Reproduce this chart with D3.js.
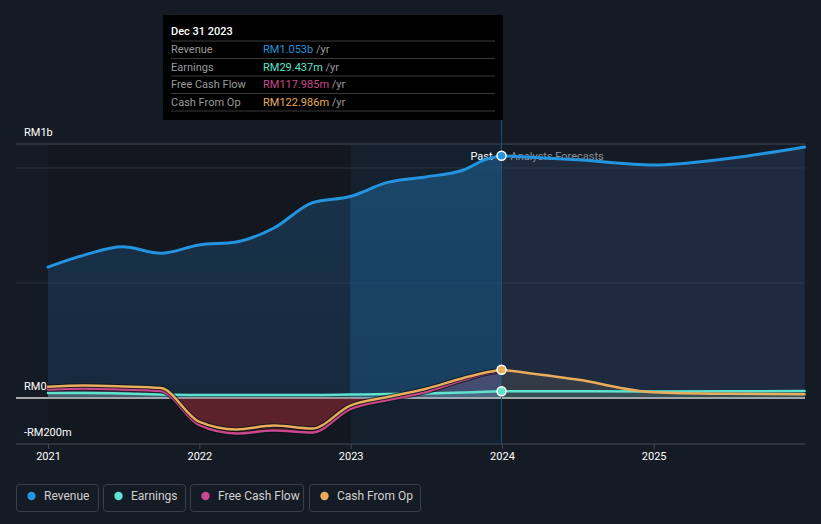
<!DOCTYPE html>
<html><head><meta charset="utf-8">
<script src="https://cdn.jsdelivr.net/npm/d3@7"></script>
<style>
html,body{margin:0;padding:0;background:#151b25;}
svg{display:block;font-family:Roboto, "Open Sans", sans-serif;}
</style></head>
<body><svg id="c" width="821" height="524"></svg>
<script>
// ---- data (RM millions) ----
const pastDates = ["2021-01-01","2021-03-31","2021-06-30","2021-09-30","2021-12-31","2022-03-31","2022-06-30","2022-09-30","2022-12-31","2023-03-31","2023-06-30","2023-09-30","2023-11-20","2023-12-31"];
const revenuePast  = [569, 622, 657, 629, 665, 678, 739, 848, 876, 937, 961, 991, 1035, 1053];
const earningsPast = [22, 22, 20, 15, 13, 13, 13, 13, 15, 17, 20, 24, 27, 29.4];
const fcfPast      = [37, 41, 37, 30, -117, -154, -141, -150, -48, -9, 26, 78, 104, 118];
const cfoPast      = [49, 54, 50, 43, -103, -137, -120, -133, -33, 4, 39, 87, 110, 123];

const forecastDates    = ["2023-12-31","2024-06-30","2024-12-31","2025-06-30","2025-12-31"];
const revenueForecast  = [1053, 1036, 1013, 1041, 1091];
const earningsForecast = [29.4, 29, 28, 29, 30];
const cfoForecast      = [123, 80, 25, 18, 16];

const xTickLabels = ["2021","2022","2023","2024","2025"];
const yTickValues = [1000, 500, 0, -200];
const yLabels = [{v:1104, t:"RM1b"}, {v:0, t:"RM0"}, {v:-200, t:"-RM200m"}];

const seriesNames  = ["Revenue","Earnings","Free Cash Flow","Cash From Op"];
const seriesColors = ["#2394df","#5fe3cf","#c9478c","#e8ae5c"];
const tooltipValues = ["RM1.053b","RM29.437m","RM117.985m","RM122.986m"];

// ---- setup ----
const svg = d3.select("#c");
const parse = d3.timeParse("%Y-%m-%d");
const x = d3.scaleTime().domain([parse("2021-01-01"), parse("2026-01-01")]).range([48, 805]);
const y = d3.scaleLinear().domain([-200, 1104]).range([444, 144]);

const past = pastDates.map((d,i)=>({d:parse(d), rev:revenuePast[i], earn:earningsPast[i], fcf:fcfPast[i], cfo:cfoPast[i]}));
const fc = forecastDates.map((d,i)=>({d:parse(d), rev:revenueForecast[i], earn:earningsForecast[i], cfo:cfoForecast[i]}));
const xNow = x(parse("2023-12-31"));
const x0 = x.range()[0], x1 = x.range()[1];
const yTop = y(1104), yBot = y(-200), yZero = y(0);

const defs = svg.append("defs");
const g1 = defs.append("linearGradient").attr("id","revPast").attr("x1",0).attr("x2",0).attr("y1",0).attr("y2",1);
g1.append("stop").attr("offset","0%").attr("stop-color","#1d4a70").attr("stop-opacity",0.55);
g1.append("stop").attr("offset","100%").attr("stop-color","#1a3550").attr("stop-opacity",0.6);
defs.append("clipPath").attr("id","above").append("rect").attr("x",0).attr("y",0).attr("width",821).attr("height",yZero);
defs.append("clipPath").attr("id","below").append("rect").attr("x",0).attr("y",yZero).attr("width",821).attr("height",524-yZero);

// past darker region
svg.append("rect").attr("x",x0).attr("y",yTop).attr("width",xNow-x0).attr("height",yBot-yTop).attr("fill","#000").attr("opacity",0.13);
// highlight band last year
svg.append("rect").attr("x",x(parse("2023-01-01"))).attr("y",yTop).attr("width",xNow-x(parse("2023-01-01"))).attr("height",yBot-yTop).attr("fill","#1b5a8a").attr("opacity",0.14);

// gridlines
yTickValues.forEach(v=>{
  svg.append("line").attr("x1",16).attr("x2",x1).attr("y1",y(v)).attr("y2",y(v))
    .attr("stroke", v===0 ? "#d8d8d8" : (v===-200 ? "#454a53" : "#2b313b")).attr("stroke-width",1);
});
svg.append("line").attr("x1",16).attr("x2",x1).attr("y1",yTop).attr("y2",yTop).attr("stroke","#454a53");

const curve = d3.curveMonotoneX;
const area = key => d3.area().curve(curve).x(d=>x(d.d)).y0(yZero).y1(d=>y(d[key]));
const line = key => d3.line().curve(curve).x(d=>x(d.d)).y(d=>y(d[key]));

// revenue areas
svg.append("path").datum(past).attr("d",area("rev")).attr("fill","url(#revPast)");
svg.append("path").datum(fc).attr("d",area("rev")).attr("fill","#2a4060").attr("opacity",0.42);

// brighter highlight under revenue in last past year
svg.append("path").datum(past.filter(d=>d.d>=parse("2022-12-31"))).attr("d",area("rev")).attr("fill","#1f6aa0").attr("opacity",0.3);

// small-series areas
svg.append("path").datum(past).attr("d",area("cfo")).attr("fill","#c8c8c8").attr("opacity",0.12).attr("clip-path","url(#above)");
svg.append("path").datum(past).attr("d",area("fcf")).attr("fill","#c9478c").attr("opacity",0.14).attr("clip-path","url(#above)");
svg.append("path").datum(past).attr("d",area("earn")).attr("fill","#5fe3cf").attr("opacity",0.18);
svg.append("path").datum(past).attr("d",area("fcf")).attr("fill","#6e2630").attr("opacity",0.8).attr("clip-path","url(#below)");
svg.append("path").datum(fc).attr("d",area("cfo")).attr("fill","#5a5a5a").attr("opacity",0.35);
svg.append("path").datum(fc).attr("d",area("earn")).attr("fill","#5fe3cf").attr("opacity",0.12);

// zero line again on top of areas
svg.append("line").attr("x1",16).attr("x2",x1).attr("y1",yZero).attr("y2",yZero).attr("stroke","#d8d8d8");

// cursor line
svg.append("line").attr("x1",xNow).attr("x2",xNow).attr("y1",119).attr("y2",yBot).attr("stroke","#1f5274").attr("stroke-width",1);

// Past / forecast labels
svg.append("text").attr("x",xNow-9).attr("y",160).attr("text-anchor","end").attr("fill","#fff").attr("font-size",11).text("Past");
svg.append("text").attr("x",xNow+9).attr("y",160).attr("fill","#8a8f98").attr("font-size",11).text("Analysts Forecasts");

// lines
function drawLine(data,key,color,w,outline){
  if(outline) svg.append("path").datum(data).attr("d",line(key)).attr("fill","none").attr("stroke","#0c0f14").attr("stroke-opacity",0.7).attr("stroke-width",w+2);
  svg.append("path").datum(data).attr("d",line(key)).attr("fill","none").attr("stroke",color).attr("stroke-width",w).attr("stroke-linecap","round");
}
drawLine(past,"earn",seriesColors[1],2.5,false);
drawLine(fc,"earn",seriesColors[1],2.5,false);
drawLine(past,"fcf",seriesColors[2],2.5,true);
drawLine(past,"cfo",seriesColors[3],2.5,true);
drawLine(fc,"cfo",seriesColors[3],2.5,false);
drawLine(past,"rev",seriesColors[0],3,false);
drawLine(fc,"rev",seriesColors[0],3,false);

// dots at now
const last = past[past.length-1];
[["rev",0],["cfo",3],["earn",1]].forEach(([k,i])=>{
  svg.append("circle").attr("cx",xNow).attr("cy",y(last[k])).attr("r",4.5).attr("fill",seriesColors[i]).attr("stroke","#fff").attr("stroke-width",1.5);
});

// y labels
yLabels.forEach(l=>{
  svg.append("text").attr("x",24).attr("y",y(l.v)-8).attr("fill","#fff").attr("font-size",11).text(l.t);
});

// x axis
const xAxis = d3.axisBottom(x).tickValues(xTickLabels.map(t=>parse(t+"-01-01"))).tickSize(5).tickFormat(d=>d3.timeFormat("%Y")(d));
const ax = svg.append("g").attr("transform",`translate(0,${yBot})`).call(xAxis);
ax.select(".domain").remove();
ax.selectAll(".tick line").attr("stroke","#454a53");
ax.selectAll(".tick text").attr("fill","#fff").attr("font-size",11).attr("dy","0.75em").attr("font-family","Roboto, sans-serif");

// tooltip
svg.append("rect").attr("x",163).attr("y",15).attr("width",340).attr("height",105).attr("fill","#000");
svg.append("text").attr("x",171).attr("y",35).attr("fill","#fff").attr("font-size",11).attr("font-weight",500).text("Dec 31 2023");
[41,58.5,76,93.5,111].forEach(yy=>svg.append("line").attr("x1",171).attr("x2",495).attr("y1",yy).attr("y2",yy).attr("stroke","#3a3a3a"));
seriesNames.forEach((n,i)=>{
  const by = 53 + i*17.5;
  svg.append("text").attr("x",171).attr("y",by).attr("fill","#9a9a9a").attr("font-size",11).text(n);
  const t = svg.append("text").attr("x",263).attr("y",by).attr("font-size",11);
  t.append("tspan").attr("fill",seriesColors[i]).text(tooltipValues[i]);
  t.append("tspan").attr("fill","#9a9a9a").text(" /yr");
});

// legend
const legX = [16,103,190,309], legW = [82,82,113,111];
seriesNames.forEach((n,i)=>{
  const gg = svg.append("g");
  gg.append("rect").attr("x",legX[i]+0.5).attr("y",484.5).attr("width",legW[i]).attr("height",27).attr("rx",3).attr("fill","none").attr("stroke","#3a3f49");
  gg.append("circle").attr("cx",legX[i]+15.5).attr("cy",496).attr("r",4.2).attr("fill",seriesColors[i]);
  gg.append("text").attr("x",legX[i]+28).attr("y",500).attr("fill","#d0d0d0").attr("font-size",12).text(n);
});
</script></body></html>
